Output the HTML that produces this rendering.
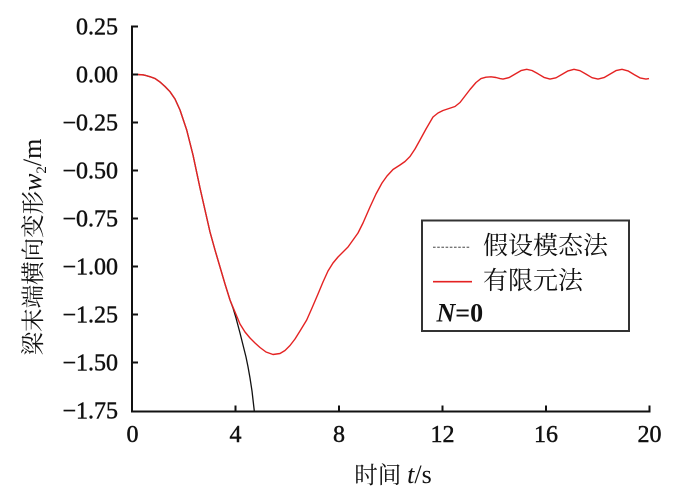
<!DOCTYPE html>
<html>
<head>
<meta charset="utf-8">
<style>
  html, body { margin: 0; padding: 0; background: #fff; }
  body { width: 700px; height: 503px; overflow: hidden; }
  svg { display: block; }
</style>
</head>
<body>
<svg width="700" height="503" viewBox="0 0 700 503" xmlns="http://www.w3.org/2000/svg">
  <rect x="0" y="0" width="700" height="503" fill="#fff"/>

  <!-- black curve (假设模态法) -->
  <polyline fill="none" stroke="#111" stroke-width="1.3" stroke-linejoin="round"
    points="132,74.5 138,74.5 144,75 150,76.7 155,78.5 160,82 165,86.5 170,91.7 175,99 180,110 186.7,130 193,155 200,188 205,210 210,232 215,250 220,267 225,284 230,300 233,308 236,318 240,333 243,345 246,357 248,366.7 250,378 252,391 254.3,411"/>

  <!-- red curve (有限元法) -->
  <polyline fill="none" stroke="#e42222" stroke-width="1.4" stroke-linejoin="round"
    points="132,74.5 138,74.5 144,75 150,76.7 155,78.5 160,82 165,86.5 170,91.7 175,99 180,110 186.7,130 193,155 200,188 205,210 210,232 215,250 220,267 225,284 230,300 235,312 240,324 245,332 250,338 255,343 260,347.5 266,352 273,354.5 280,353.5 285,350.5 290,345.5 295,339 300,331 306.7,320 312,308 318,294 323,282 328,271 333,263 338,257 343,252 348,247 353,240 358,233 363,223 370,207 376,194 382,183 387,176 393,169.5 400,165 405,161.5 410,156.5 415,149 420,140 426,129 433,117 438,113 443,110.5 449,108.5 455,106.5 460,102.5 465,96 470,89.5 476,82.5 481,78.6 486,77.2 491,76.8 496,77.5 500,78.6 503,79.1 509,77.6 515,74.1 521,70.6 526.7,69.3 532,70.5 538,73.8 544,77.4 550,79.1 556,77.8 562,74.4 568,70.9 574,69.3 580,70.7 586,74.15 592,77.7 598,79.1 604,77.6 610,74.1 616,70.6 622,69.3 628,70.9 634,74.5 640,77.9 646,79.1 649,78.6"/>

  <!-- axes -->
  <g stroke="#111" stroke-width="2" fill="none">
    <line x1="132" y1="25.5" x2="132" y2="412"/>
    <line x1="131" y1="411.5" x2="650.5" y2="411.5"/>
    <line x1="132" y1="26.5" x2="138" y2="26.5"/>
    <line x1="132" y1="74.5" x2="138" y2="74.5"/>
    <line x1="132" y1="122.5" x2="138" y2="122.5"/>
    <line x1="132" y1="170.5" x2="138" y2="170.5"/>
    <line x1="132" y1="218.5" x2="138" y2="218.5"/>
    <line x1="132" y1="266.5" x2="138" y2="266.5"/>
    <line x1="132" y1="314.5" x2="138" y2="314.5"/>
    <line x1="132" y1="362.5" x2="138" y2="362.5"/>
    <line x1="235.5" y1="411.5" x2="235.5" y2="405.5"/>
    <line x1="339" y1="411.5" x2="339" y2="405.5"/>
    <line x1="442.5" y1="411.5" x2="442.5" y2="405.5"/>
    <line x1="546" y1="411.5" x2="546" y2="405.5"/>
    <line x1="649.5" y1="412" x2="649.5" y2="405.5"/>
  </g>

  <!-- y tick labels -->
  <g font-family="Liberation Serif, serif" font-size="24" fill="#111" stroke="#111" stroke-width="0.45" text-anchor="end">
    <text x="118" y="34.5">0.25</text>
    <text x="118" y="82.5">0.00</text>
    <text x="118" y="130.5">−0.25</text>
    <text x="118" y="178.5">−0.50</text>
    <text x="118" y="226.5">−0.75</text>
    <text x="118" y="274.5">−1.00</text>
    <text x="118" y="322.5">−1.25</text>
    <text x="118" y="370.5">−1.50</text>
    <text x="118" y="418.5">−1.75</text>
  </g>

  <!-- x tick labels -->
  <g font-family="Liberation Serif, serif" font-size="24" fill="#111" stroke="#111" stroke-width="0.45" text-anchor="middle">
    <text x="132.5" y="442">0</text>
    <text x="235.5" y="442">4</text>
    <text x="339" y="442">8</text>
    <text x="442.5" y="442">12</text>
    <text x="546" y="442">16</text>
    <text x="649.5" y="442">20</text>
  </g>

  <!-- x axis title -->
  <text x="393" y="483" text-anchor="middle" font-family="Liberation Serif, Noto Serif CJK SC, serif" font-size="23.5" fill="#111">时间 <tspan font-style="italic" font-family="Liberation Serif, serif" font-size="26">t</tspan><tspan font-family="Liberation Serif, serif" font-size="26">/s</tspan></text>

  <!-- y axis title -->
  <text transform="translate(41,247) rotate(-90)" text-anchor="middle" font-family="Liberation Serif, Noto Serif CJK SC, serif" font-size="23.5" fill="#111">梁末端横向变形<tspan font-style="italic" font-family="Liberation Serif, serif" font-size="26">w</tspan><tspan font-family="Liberation Serif, serif" font-size="15" dy="5">2</tspan><tspan font-family="Liberation Serif, serif" font-size="26" dy="-5">/m</tspan></text>

  <!-- legend -->
  <rect x="422" y="220.5" width="207" height="110.5" fill="#fff" stroke="#333" stroke-width="2"/>
  <line x1="433" y1="247.3" x2="470" y2="247.3" stroke="#777" stroke-width="1.3" stroke-dasharray="2.6 1.6"/>
  <text x="483" y="254" font-family="Liberation Serif, Noto Serif CJK SC, serif" font-size="25" fill="#111">假设模态法</text>
  <line x1="433" y1="281.7" x2="472" y2="281.7" stroke="#e42222" stroke-width="1.6"/>
  <text x="483" y="289" font-family="Liberation Serif, Noto Serif CJK SC, serif" font-size="25" fill="#111">有限元法</text>
  <text x="436.5" y="321.5" font-family="Liberation Serif, serif" font-size="26" font-weight="bold" fill="#111"><tspan font-style="italic">N</tspan>=0</text>
</svg>
</body>
</html>
